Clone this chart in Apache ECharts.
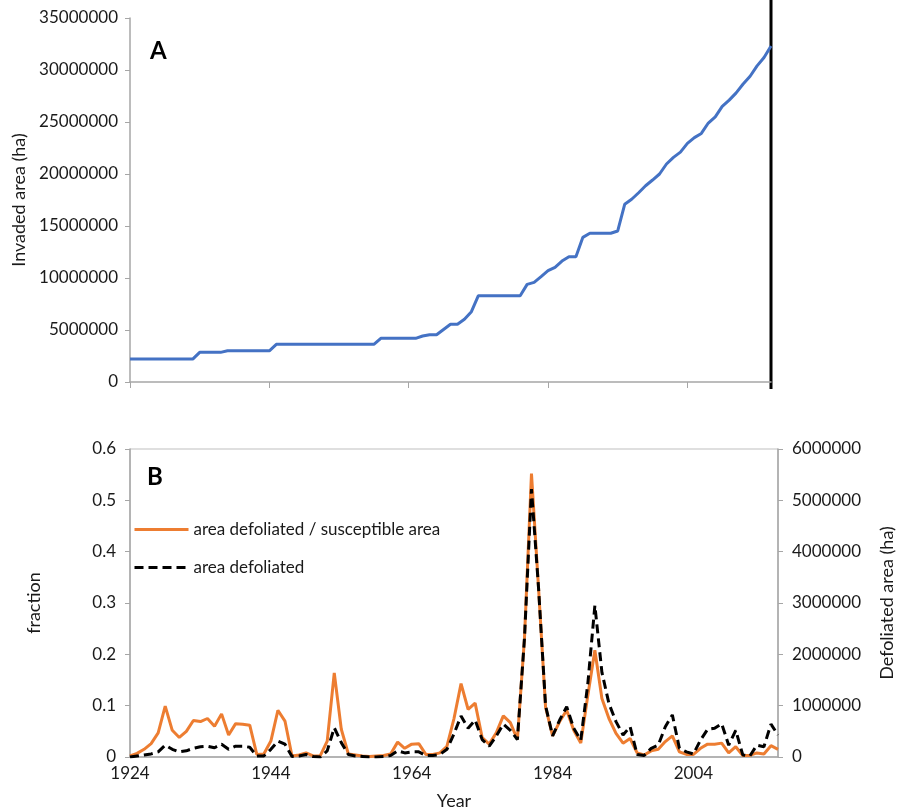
<!DOCTYPE html>
<html>
<head>
<meta charset="utf-8">
<title>Invaded and defoliated area</title>
<script src="https://cdn.jsdelivr.net/npm/echarts@6/dist/echarts.min.js"></script>
<style>
  html, body { margin: 0; padding: 0; background: #fff; }
  #main { width: 909px; height: 811px; }
</style>
</head>
<body>
<div id="main"></div>
<script>
// year categories 1924 .. 2016
var years = [];
for (var y = 1924; y <= 2016; y++) {
  years.push(String(y));
}

// panel A - invaded area (ha)
var invadedArea = [
  2200000, 2200000, 2200000, 2200000, 2200000, 2200000, 2200000, 2200000, 2200000, 2200000,
  2850000, 2850000, 2850000, 2850000,
  3000000, 3000000, 3000000, 3000000, 3000000, 3000000, 3000000,
  3620000, 3620000, 3620000, 3620000, 3620000, 3620000, 3620000, 3620000, 3620000, 3620000,
  3620000, 3620000, 3620000, 3620000, 3620000,
  4200000, 4200000, 4200000, 4200000, 4200000, 4200000,
  4420000, 4550000, 4550000, 5050000, 5550000, 5550000, 6030000, 6760000,
  8300000, 8300000, 8300000, 8300000, 8300000, 8300000, 8300000,
  9390000, 9580000, 10130000, 10700000, 11030000, 11630000, 12050000, 12050000, 13910000, 14300000,
  14300000, 14300000, 14300000, 14520000, 17090000, 17570000, 18200000, 18870000, 19420000, 20000000,
  20960000, 21600000, 22100000, 22950000, 23500000, 23900000, 24900000, 25500000, 26500000, 27100000,
  27800000, 28650000, 29400000, 30400000, 31200000, 32300000
];

// panel B - area defoliated / susceptible area (fraction)
var defolFraction = [
  0.002, 0.007, 0.015, 0.026, 0.047, 0.099, 0.052, 0.038, 0.05, 0.071,
  0.069, 0.075, 0.06, 0.084, 0.043, 0.065, 0.064, 0.062, 0.005, 0.006,
  0.031, 0.091, 0.07, 0.002, 0.004, 0.008, 0.002, 0.002, 0.031, 0.164,
  0.054, 0.006, 0.004, 0.002, 0.001, 0.002, 0.003, 0.006, 0.029, 0.017,
  0.025, 0.026, 0.005, 0.005, 0.008, 0.021,
  0.075, 0.143, 0.093, 0.105, 0.038, 0.025, 0.047, 0.08, 0.067, 0.034,
  0.23, 0.552, 0.33, 0.097, 0.041, 0.069, 0.091, 0.052, 0.027, 0.12,
  0.208, 0.114, 0.075, 0.046, 0.027, 0.036, 0.008, 0.004, 0.012, 0.015,
  0.03, 0.041, 0.01, 0.005, 0.005, 0.017, 0.025, 0.025, 0.027, 0.008,
  0.02, 0.003, 0.003, 0.008, 0.006, 0.022, 0.015
];

// panel B - area defoliated (ha)
var defolArea = [
  0, 20000, 40000, 60000, 100000, 230000, 150000, 100000, 120000, 170000,
  200000, 210000, 180000, 250000, 150000, 210000, 210000, 190000, 20000, 20000,
  150000, 310000, 250000, 10000, 20000, 50000, 10000, 0, 120000, 570000,
  280000, 50000, 20000, 10000, 0, 0, 10000, 30000, 120000, 80000,
  100000, 100000, 30000, 30000, 50000, 150000,
  450000, 800000, 560000, 720000, 340000, 210000, 410000, 640000, 520000, 340000,
  2300000, 5220000, 3300000, 1000000, 410000, 720000, 980000, 560000, 330000, 1430000,
  2950000, 1650000, 1040000, 690000, 430000, 590000, 50000, 30000, 170000, 230000,
  590000, 820000, 170000, 100000, 60000, 330000, 540000, 560000, 650000, 230000,
  520000, 40000, 20000, 230000, 200000, 640000, 430000
];

var FONT = 'Lato';
var TXT = '#1a1a1a';
var AXIS = '#a6a6a6';

// plain numbers, no thousands separators
function plain(v) {
  return String(v);
}

var chart = echarts.init(document.getElementById('main'));

var option = {
  backgroundColor: '#fff',
  animation: false,
  textStyle: { fontFamily: FONT, color: TXT },
  grid: [
    { left: 130, top: 18, width: 641, height: 364 },
    { left: 130, top: 449, width: 648, height: 308, show: true, borderColor: '#bfbfbf', borderWidth: 1 }
  ],
  legend: {
    orient: 'vertical',
    left: 133,
    top: 521,
    padding: 0,
    itemWidth: 54,
    itemHeight: 12,
    itemGap: 21,
    itemStyle: { opacity: 0 },
    lineStyle: { width: 3 },
    textStyle: { fontFamily: FONT, fontSize: 17, color: TXT },
    data: ['area defoliated / susceptible area', 'area defoliated']
  },
  xAxis: [
    {
      gridIndex: 0,
      type: 'category',
      data: years,
      boundaryGap: false,
      axisLine: { lineStyle: { color: AXIS, width: 1.5 } },
      axisTick: { interval: 19, length: 6, lineStyle: { color: AXIS } },
      axisLabel: { show: false },
      splitLine: { show: false }
    },
    {
      gridIndex: 1,
      type: 'category',
      data: years,
      boundaryGap: false,
      name: 'Year',
      nameLocation: 'middle',
      nameGap: 35,
      nameTextStyle: { fontFamily: FONT, fontSize: 18, color: TXT },
      axisLine: { lineStyle: { color: AXIS, width: 1.5 } },
      axisTick: { show: false },
      axisLabel: { interval: 19, margin: 8, fontSize: 17, color: TXT },
      splitLine: { show: false }
    }
  ],
  yAxis: [
    {
      gridIndex: 0,
      type: 'value',
      min: 0,
      max: 35000000,
      interval: 5000000,
      name: 'Invaded area (ha)',
      nameLocation: 'middle',
      nameGap: 98,
      nameTextStyle: { fontFamily: FONT, fontSize: 18, color: TXT },
      axisLine: { show: true, lineStyle: { color: AXIS, width: 1.5 } },
      axisTick: { show: true, length: 5, lineStyle: { color: AXIS } },
      axisLabel: { margin: 12, fontSize: 17, color: TXT, formatter: plain },
      splitLine: { show: false }
    },
    {
      gridIndex: 1,
      type: 'value',
      position: 'left',
      min: 0,
      max: 0.6,
      interval: 0.1,
      name: 'fraction',
      nameLocation: 'middle',
      nameGap: 87,
      nameTextStyle: { fontFamily: FONT, fontSize: 18, color: TXT },
      axisLine: { show: true, lineStyle: { color: AXIS, width: 1.5 } },
      axisTick: { show: true, length: 5, lineStyle: { color: AXIS } },
      axisLabel: {
        margin: 14, fontSize: 17, color: TXT,
        formatter: function (v) { return v === 0 ? '0' : v.toFixed(1); }
      },
      splitLine: { show: false }
    },
    {
      gridIndex: 1,
      type: 'value',
      position: 'right',
      min: 0,
      max: 6000000,
      interval: 1000000,
      name: 'Defoliated area (ha)',
      nameLocation: 'middle',
      nameGap: 100,
      nameTextStyle: { fontFamily: FONT, fontSize: 18, color: TXT },
      axisLine: { show: true, lineStyle: { color: AXIS, width: 1.5 } },
      axisTick: { show: true, length: 5, lineStyle: { color: AXIS } },
      axisLabel: { margin: 14, fontSize: 17, color: TXT, formatter: plain },
      splitLine: { show: false }
    }
  ],
  series: [
    {
      name: 'Invaded area',
      type: 'line',
      xAxisIndex: 0,
      yAxisIndex: 0,
      data: invadedArea,
      symbol: 'none',
      lineStyle: { color: '#4472c4', width: 3 },
      itemStyle: { color: '#4472c4' }
    },
    {
      name: 'area defoliated / susceptible area',
      type: 'line',
      xAxisIndex: 1,
      yAxisIndex: 1,
      data: defolFraction,
      symbol: 'none',
      lineStyle: { color: '#ed7d31', width: 3 },
      itemStyle: { color: '#ed7d31' }
    },
    {
      name: 'area defoliated',
      type: 'line',
      xAxisIndex: 1,
      yAxisIndex: 2,
      data: defolArea,
      symbol: 'none',
      lineStyle: { color: '#000', width: 3, type: [9, 5] },
      itemStyle: { color: '#000' }
    }
  ],
  graphic: [
    // panel letters
    { type: 'text', left: 150, top: 39, style: { text: 'A', fontFamily: FONT, fontSize: 24, fontWeight: 'bold', fill: '#000' } },
    { type: 'text', left: 147, top: 465, style: { text: 'B', fontFamily: FONT, fontSize: 24, fontWeight: 'bold', fill: '#000' } },
    // right edge of panel A frame
    { type: 'line', shape: { x1: 771, y1: 0, x2: 771, y2: 389 }, style: { stroke: '#000', lineWidth: 3 } }
  ]
};

chart.setOption(option);
</script>
</body>
</html>
